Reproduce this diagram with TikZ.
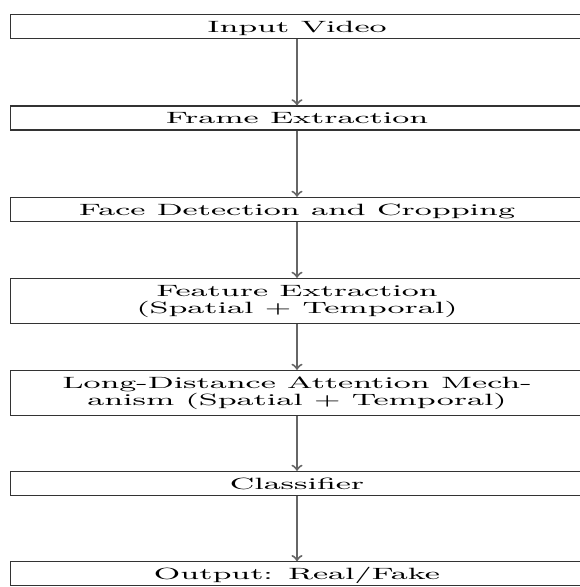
\documentclass[tikz,border=0pt]{standalone}
\usepackage{graphicx}
\usetikzlibrary{arrows}
\newcommand{\widetxt}[1]{\scalebox{1.96}[1]{\begin{tabular}[b]{@{}c@{}}#1\end{tabular}}}
\begin{document}
\begin{tikzpicture}[x=0.49pt,y=-0.49pt]
\tikzstyle{every node}+=[inner sep=0pt]
\tikzstyle{stage}=[draw=black!80, line width=0.6pt, minimum width=281pt, font=\fontsize{8}{7.9}\selectfont, text height=8.7pt, text depth=3.1pt]
\tikzstyle{stage2}=[stage, text height=17pt, text depth=5.1pt]
\tikzstyle{flow}=[draw=black!60, line width=1pt, ->]
\useasboundingbox (0,0) rectangle (580,587);
\node [stage] (input) at (297,26.3) {\widetxt{Input Video}};
\node [stage] (frames) at (297,118) {\widetxt{Frame Extraction}};
\node [stage] (faces) at (297,209.5) {\widetxt{Face Detection and Cropping}};
\node [stage2] (features) at (297,301) {\widetxt{Feature Extraction\\(Spatial + Temporal)}};
\node [stage2] (attention) at (297,393) {\widetxt{Long-Distance Attention Mech-\\anism (Spatial + Temporal)}};
\node [stage] (classifier) at (297,483.5) {\widetxt{Classifier}};
\node [stage] (output) at (297,573.8) {\widetxt{Output: Real/Fake}};
\draw [flow] (input) -- (frames);
\draw [flow] (frames) -- (faces);
\draw [flow] (faces) -- (features);
\draw [flow] (features) -- (attention);
\draw [flow] (attention) -- (classifier);
\draw [flow] (classifier) -- (output);
\end{tikzpicture}
\end{document}
